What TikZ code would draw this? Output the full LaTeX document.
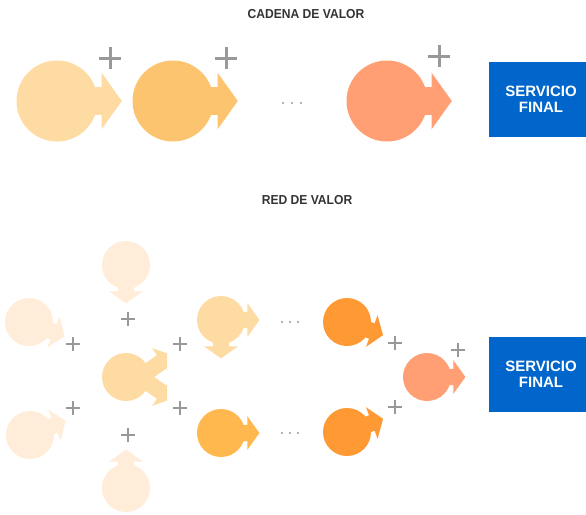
\documentclass[tikz,border=0pt]{standalone}
\usepackage{fontspec}
\usepackage{graphicx}
\setmainfont{Liberation Sans}

\definecolor{faint}{HTML}{FFEDD9}
\definecolor{light}{HTML}{FDDBA3}
\definecolor{mid}{HTML}{FDC470}
\definecolor{amber}{HTML}{FFB84D}
\definecolor{orng}{HTML}{FF9933}
\definecolor{salmon}{HTML}{FF9F73}
\definecolor{plusgray}{HTML}{999999}
\definecolor{headgray}{HTML}{333333}
\definecolor{boxblue}{HTML}{0066CC}

% arrow tail leaving a bubble: node, radius, angle, colour
\newcommand\vtail[4]{%
  \begin{scope}[shift={(#1.center)}, rotate=#3]
    \fill[#4] (0,-0.34*#2) -- (1.1*#2,-0.34*#2) -- (1.1*#2,-0.7*#2) -- (1.6*#2,0)
      -- (1.1*#2,0.7*#2) -- (1.1*#2,0.34*#2) -- (0,0.34*#2) -- cycle;
  \end{scope}}

% plus sign: centre, arm length, line width
\newcommand\plusmark[3]{%
  \draw[plusgray, line width=#3] ($(#1)+(-#2,0)$) -- ($(#1)+(#2,0)$);
  \draw[plusgray, line width=#3] ($(#1)+(0,-#2)$) -- ($(#1)+(0,#2)$);}

% three dots
\newcommand\ellip[2]{%
  \foreach \dx in {-#2,0,#2} \fill[plusgray] ($(#1)+(\dx,0)$) circle (1.1);}

\usetikzlibrary{calc}

\begin{document}
\begin{tikzpicture}[x=1pt,y=-1pt,
  bub/.style={circle, fill=#1, inner sep=0pt, outer sep=0pt},
  heading/.style={text=headgray, font=\fontsize{13}{15}\selectfont\bfseries, inner sep=0pt},
  finalbox/.style={fill=boxblue, text=white, align=center, inner sep=0pt,
    minimum width=104pt, minimum height=75pt,
    font=\fontsize{15}{16}\selectfont\bfseries}]
\useasboundingbox (0,0) rectangle (586,514);
\clip (0,0) rectangle (586,514);

% ---------- value chain ----------
\node[heading] (h1) at (306,14) {\scalebox{0.93}[1]{CADENA DE VALOR}};

\node[bub=light, minimum size=81pt] (c1) at (57,101) {};
\vtail{c1}{40.5}{0}{light}
\node[bub=mid, minimum size=81pt] (c2) at (173,101) {};
\vtail{c2}{40.5}{0}{mid}
\node[bub=salmon, minimum size=81pt] (c3) at (387,101) {};
\vtail{c3}{40.5}{0}{salmon}

\coordinate (p1) at (110,58);
\coordinate (p2) at (226,58);
\coordinate (p3) at (439,56);
\plusmark{p1}{11}{3pt}
\plusmark{p2}{11}{3pt}
\plusmark{p3}{11}{3pt}

\coordinate (d1) at (292,103);
\ellip{d1}{9}

\node[finalbox] (s1) at (541,99.5) {SERVICIO\\FINAL};

% ---------- value network ----------
\node[heading] (h2) at (307,200) {\scalebox{0.93}[1]{RED DE VALOR}};

\node[bub=faint, minimum size=48pt] (t) at (126,265) {};
\vtail{t}{24}{-90}{faint}
\node[bub=faint, minimum size=48pt] (lt) at (29,322) {};
\vtail{lt}{24}{-22}{faint}
\node[bub=faint, minimum size=48pt] (lb) at (30,435) {};
\vtail{lb}{24}{22}{faint}
\node[bub=faint, minimum size=48pt] (b) at (126,488) {};
\vtail{b}{24}{90}{faint}

% central bubble with two tails cut off flat on the right
\node[bub=light, minimum size=48pt] (m) at (126,377) {};
\begin{scope}
  \clip (0,0) rectangle (167,514);
  \coordinate (mo) at (140,377);
  \vtail{mo}{24}{35}{light}
  \vtail{mo}{24}{-35}{light}
\end{scope}

\node[bub=light, minimum size=48pt] (rt) at (221,320) {};
\vtail{rt}{24}{0}{light}
\vtail{rt}{24}{-90}{light}
\node[bub=amber, minimum size=48pt] (rb) at (221,433) {};
\vtail{rb}{24}{0}{amber}

\node[bub=orng, minimum size=48pt] (o1) at (347,322) {};
\vtail{o1}{24}{-20}{orng}
\node[bub=orng, minimum size=48pt] (o2) at (347,432) {};
\vtail{o2}{24}{20}{orng}

\node[bub=salmon, minimum size=48pt] (f) at (427,377) {};
\vtail{f}{24}{0}{salmon}

\coordinate (q1) at (128,319);
\coordinate (q2) at (73,344);
\coordinate (q3) at (180,344);
\coordinate (q4) at (73,408);
\coordinate (q5) at (180,408);
\coordinate (q6) at (128,435);
\coordinate (q7) at (395,343);
\coordinate (q8) at (395,407);
\coordinate (q9) at (458,350);
\foreach \q in {q1,q2,q3,q4,q5,q6,q7,q8,q9} {\plusmark{\q}{7}{2pt}}

\coordinate (d2) at (290,322);
\coordinate (d3) at (290,433);
\ellip{d2}{8}
\ellip{d3}{8}

\node[finalbox] (s2) at (541,374.5) {SERVICIO\\FINAL};
\end{tikzpicture}
\end{document}
